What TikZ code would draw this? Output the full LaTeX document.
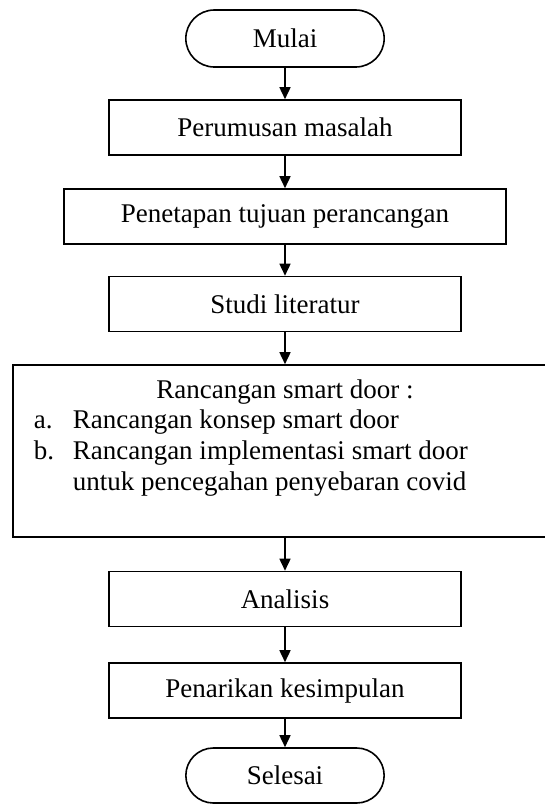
\documentclass[tikz,border=0pt]{standalone}
\usepackage{fontspec}
\setmainfont{Liberation Serif}
\usepackage{tikz}
\usetikzlibrary{arrows.meta,calc,shapes.misc}

\begin{document}
\begin{tikzpicture}[x=1pt,y=-1pt,
    font=\fontsize{27}{31}\selectfont,
    >={Triangle[width=11pt,length=12pt]},
    every node/.style={line width=1.6pt},
    terminal/.style={draw, rounded rectangle, minimum width=205pt, minimum height=57pt},
    stepbox/.style={draw, rectangle, minimum width=352pt, minimum height=55pt}]
          \useasboundingbox (0,0) rectangle (545,804);
          \node[terminal] (Mulai) at (285,38.5) {Mulai};
          \node[stepbox] (Perumusan) at (285,127.5) {Perumusan masalah};
          \node[stepbox, minimum width=442pt] (Penetapan) at (285,216.5) {Penetapan tujuan perancangan};
          \node[stepbox] (Studi) at (285,304) {Studi literatur};
          \node[stepbox, minimum width=544pt, minimum height=172pt] (Rancangan) at (285,451) {};
          \node[anchor=base, inner sep=0] (RancanganJudul) at (285,398) {Rancangan smart door :};
          \node[anchor=base west, inner sep=0] (RancanganIsi) at (33,428)
            {\begin{tabular}[t]{@{}p{39pt}@{}l@{}}
              a. & Rancangan konsep smart door\\
              b. & Rancangan implementasi smart door\\
                 & untuk pencegahan penyebaran covid
            \end{tabular}};
          \node[stepbox] (Analisis) at (285,599) {Analisis};
          \node[stepbox] (Penarikan) at (285,690.5) {Penarikan kesimpulan};
          \node[terminal, minimum height=55pt] (Selesai) at (285,775.5) {Selesai};

          \draw[->, line width=1.6pt] (Mulai) to (Perumusan);
          \draw[->, line width=1.6pt] (Perumusan) to (Penetapan);
          \draw[->, line width=1.6pt] (Penetapan) to (Studi);
          \draw[->, line width=1.6pt] (Studi) to (Rancangan);
          \draw[->, line width=1.6pt] (Rancangan) to (Analisis);
          \draw[->, line width=1.6pt] (Analisis) to (Penarikan);
          \draw[->, line width=1.6pt] (Penarikan) to (Selesai);
        \end{tikzpicture}
\end{document}
